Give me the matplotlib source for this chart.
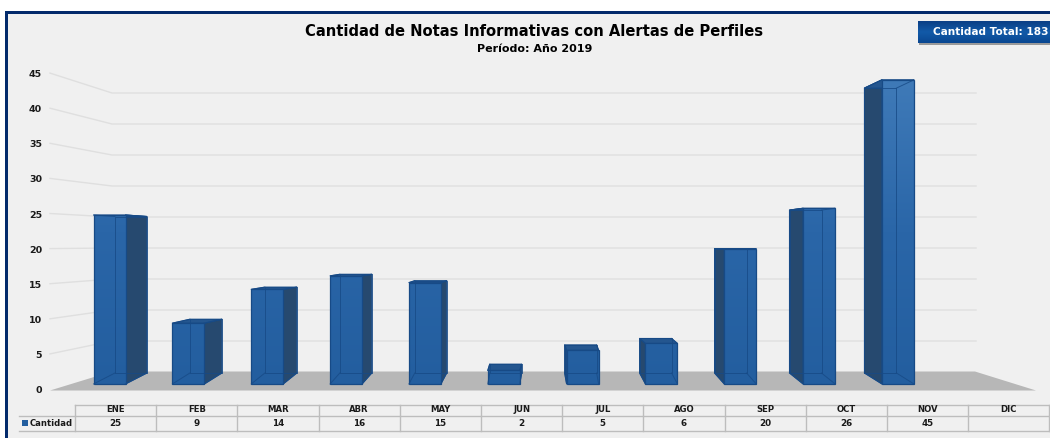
import numpy as np
import matplotlib
matplotlib.use("Agg")
import matplotlib.pyplot as plt
from matplotlib.patches import Polygon, Rectangle
from matplotlib.colors import LinearSegmentedColormap

months = ["ENE", "FEB", "MAR", "ABR", "MAY", "JUN", "JUL", "AGO", "SEP", "OCT", "NOV", "DIC"]
values = [25, 9, 14, 16, 15, 2, 5, 6, 20, 26, 45, None]
y_ticks = [0, 5, 10, 15, 20, 25, 30, 35, 40, 45]
title = "Cantidad de Notas Informativas con Alertas de Perfiles"
subtitle = "Período: Año 2019"
total_label = "Cantidad Total: 183"
series_name = "Cantidad"

plt.rcParams["font.family"] = "DejaVu Sans"

fig = plt.figure(figsize=(10.5, 4.38), dpi=100, facecolor="white")
ax = fig.add_axes([0, 0, 1, 1])
ax.axis("off")


# perspective scales: value -> pixel row on each plane
def y_label(v):
    return 390.5 - 7.02 * v


def y_wall(v):
    return 372 - 6.2 * v


def y_front(v):
    return 384 - 6.76 * v


def y_back(v):
    return 377 - 6.42 * v


def x_front(i):
    return 93.5 + 78.85 * i


def x_shift(i):
    return (5.5 - i) * 3.9


BAR_W = 32
BASE_BACK = 373

# panel
ax.add_patch(Rectangle((5, 11), 1046, 428, fc="#f0f0f0", ec="none", zorder=0))
ax.add_patch(Rectangle((5, 11), 3, 428, fc="#032a6b", ec="none", zorder=1))
ax.add_patch(Rectangle((5, 11), 1046, 2.5, fc="#032a6b", ec="none", zorder=1))

# gridlines and floor
for t in y_ticks[1:]:
    ax.plot([50, 112, 976], [y_label(t) - 1.5, y_wall(t), y_wall(t)], color="#dfdfdf", lw=1, zorder=2)
ax.add_patch(Polygon([(50, 390.5), (1036, 390.5), (975, 371.5), (112, 371.5)], fc="#b7b7b7", ec="none", zorder=2))

for t in y_ticks:
    ax.text(42, y_label(t), str(t), ha="right", va="center", fontsize=6.8, fontweight="bold", color="#1a1a1a", zorder=5)

# bars
cmap = LinearSegmentedColormap.from_list("bar", ["#3f7ab8", "#2a66a8", "#235e9f"])
grad = np.linspace(0, 1, 256).reshape(-1, 1)
edge = "#174a86"
for i, v in enumerate(values):
    if v is None:
        continue
    fl, fr = x_front(i), x_front(i) + BAR_W
    s = x_shift(i)
    bl, br = fl + s, fr + s
    ft, bt = y_front(v), y_back(v)
    fb = y_front(0)
    z = 3 + i * 0.01
    if s >= 0:
        side = [(fr, ft), (br, bt), (br, BASE_BACK), (fr, fb)]
    else:
        side = [(fl, ft), (bl, bt), (bl, BASE_BACK), (fl, fb)]
    ax.add_patch(Polygon(side, fc="#26496f", ec=edge, lw=0.8, zorder=z))
    ax.add_patch(Polygon([(fl, ft), (fr, ft), (br, bt), (bl, bt)], fc="#24568f", ec=edge, lw=0.8, zorder=z))
    img = ax.imshow(grad, cmap=cmap, extent=(fl, fr, fb, 80), aspect="auto", zorder=z + 0.001)
    clip = Rectangle((fl, ft), BAR_W, fb - ft, transform=ax.transData, fc="none", ec="none")
    ax.add_patch(clip)
    img.set_clip_path(clip)
    ax.add_patch(Rectangle((fl, ft), BAR_W, fb - ft, fc="none", ec=edge, lw=0.9, zorder=z + 0.002))
    ax.plot([bl, bl, br, br, bl], [BASE_BACK, bt, bt, BASE_BACK, BASE_BACK], color=edge, lw=0.7, alpha=0.8, zorder=z + 0.003)
    ax.plot([fl, bl], [fb, BASE_BACK], color=edge, lw=0.7, alpha=0.8, zorder=z + 0.003)
    ax.plot([fr, br], [fb, BASE_BACK], color=edge, lw=0.7, alpha=0.8, zorder=z + 0.003)
    ax.plot([fl, bl], [ft, bt], color=edge, lw=0.7, alpha=0.8, zorder=z + 0.003)
    ax.plot([fr, br], [ft, bt], color=edge, lw=0.7, alpha=0.8, zorder=z + 0.003)

# titles
ax.text(534, 31, title, ha="center", va="center", fontsize=10.6, fontweight="bold", color="black", zorder=6)
ax.text(535, 49, subtitle, ha="center", va="center", fontsize=8.0, fontweight="bold", color="black", zorder=6)

# total badge
ax.add_patch(Rectangle((919, 22), 135, 22.5, fc="#9a9a9a", ec="none", zorder=5))
badge = ax.imshow(np.linspace(0, 1, 64).reshape(-1, 1),
                  cmap=LinearSegmentedColormap.from_list("b", ["#0b3f85", "#125aa8", "#0a4791"]),
                  extent=(918, 1051, 43, 21), aspect="auto", zorder=5.5)
ax.text(933, 32, total_label, ha="left", va="center", fontsize=7.6, fontweight="bold", color="white", zorder=6)

# data table
col_edges = [75 + 81.2 * k for k in range(13)]
LINE = "#bdbdbd"
ax.plot([75, col_edges[-1]], [404.5, 404.5], color=LINE, lw=1, zorder=3)
ax.plot([19, col_edges[-1]], [415.5, 415.5], color=LINE, lw=1, zorder=3)
ax.plot([19, col_edges[-1]], [430.5, 430.5], color=LINE, lw=1, zorder=3)
for k, xe in enumerate(col_edges):
    ax.plot([xe, xe], [404.5, 430.5], color=LINE, lw=1, zorder=3)
for k, m in enumerate(months):
    xc = (col_edges[k] + col_edges[k + 1]) / 2
    ax.text(xc, 410, m, ha="center", va="center", fontsize=6.1, fontweight="bold", color="#1a1a1a", zorder=5)
    if values[k] is not None:
        ax.text(xc, 423, str(values[k]), ha="center", va="center", fontsize=6.3, fontweight="bold", color="#1a1a1a", zorder=5)
ax.add_patch(Rectangle((22, 420), 6, 6, fc="#235e9f", ec="none", zorder=5))
ax.text(30, 423, series_name, ha="left", va="center", fontsize=6.1, fontweight="bold", color="#1a1a1a", zorder=5)

ax.set_xlim(0, 1050)
ax.set_ylim(438, 0)
fig.savefig("out.png", dpi=100, facecolor="white")
